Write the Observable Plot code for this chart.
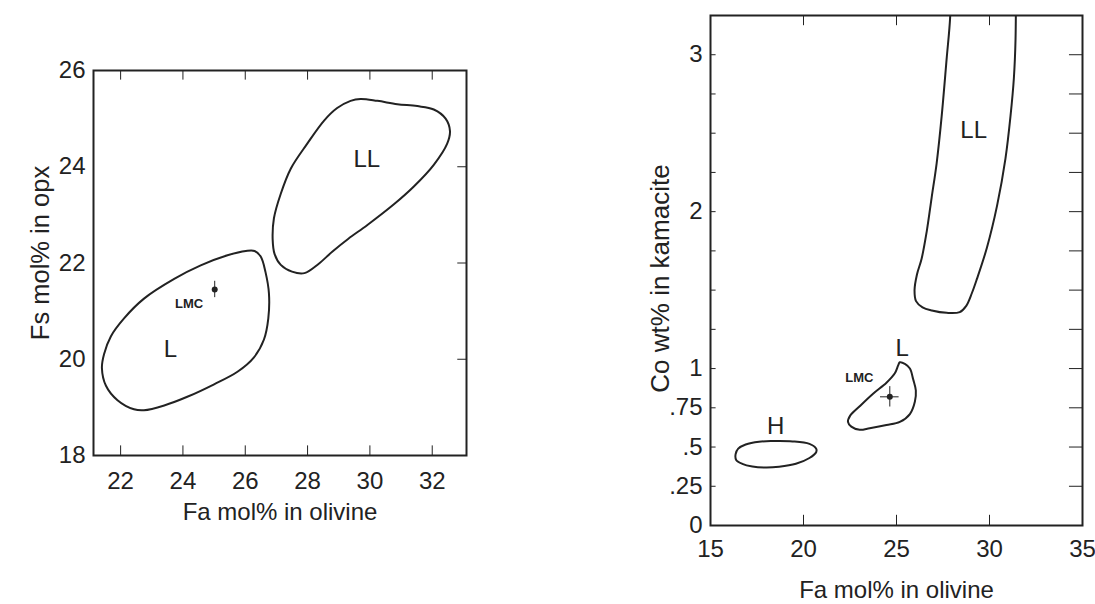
<!DOCTYPE html>
<html><head><meta charset="utf-8">
<script src="https://cdn.jsdelivr.net/npm/d3@7"></script>
<script src="https://cdn.jsdelivr.net/npm/@observablehq/plot@0.6"></script>
<style>
body{margin:0;background:#fff;}
#wrap{position:relative;width:1095px;height:604px;background:#fff;overflow:hidden;}
#left,#right{position:absolute;top:0;}
#left{left:0;} #right{left:545px;}
</style></head><body><div id="wrap"><div id="left"></div><div id="right"></div></div>
<script>
const FONT = '"Liberation Sans Narrow","Arial Narrow","Liberation Sans",Arial,sans-serif';
const INK = "#222";

// ---------- Left panel data ----------
const leftXTitle = "Fa mol% in olivine";
const leftYTitle = "Fs mol% in opx";
const leftXDomain = [21.13, 33.1];
const leftYDomain = [18, 26];
const leftXTicks = [22, 24, 26, 28, 30, 32];
const leftYTicks = [18, 20, 22, 24, 26];
const leftYInnerTicks = [20, 22, 24];
const leftL = [[21.40,19.82],[21.47,20.11],[21.69,20.48],[22.11,20.85],[22.75,21.26],[23.72,21.67],[24.57,21.95],[25.43,22.16],[26.02,22.25],[26.30,22.25],[26.50,22.13],[26.65,21.81],[26.76,21.37],[26.74,20.85],[26.60,20.41],[26.28,20.04],[25.75,19.74],[25.00,19.48],[24.14,19.22],[23.40,19.04],[22.75,18.94],[22.43,18.96],[21.90,19.15],[21.53,19.45]];
const leftLL = [[29.70,25.41],[30.24,25.37],[30.88,25.30],[31.52,25.26],[32.05,25.19],[32.43,25.00],[32.57,24.74],[32.48,24.48],[32.05,24.04],[31.41,23.59],[30.77,23.22],[29.92,22.79],[29.30,22.50],[28.80,22.24],[28.35,21.98],[27.90,21.79],[27.50,21.82],[27.14,21.96],[26.94,22.19],[26.88,22.48],[26.92,22.93],[27.14,23.44],[27.46,23.96],[27.99,24.48],[28.53,24.96],[28.95,25.22],[29.38,25.37]];
const leftLMC = [{x: 25.02, y: 21.45, ex: 0.07, ey: 0.17}];
const leftRegionLabels = [{x: 23.6, y: 20.2, text: "L"}, {x: 29.9, y: 24.15, text: "LL"}];
const leftLMCLabel = [{x: 24.2, y: 21.15, text: "LMC"}];

// ---------- Right panel data ----------
const rightXTitle = "Fa mol% in olivine";
const rightYTitle = "Co wt% in kamacite";
const rightXDomain = [15, 35];
const rightYDomain = [0, 3.25];
const rightXTicks = [15, 20, 25, 30, 35];
const rightXInnerTicks = [20, 25, 30];
const rightYTicks = [0, 0.25, 0.5, 0.75, 1, 2, 3];
const rightYTickLabels = ["0", ".25", ".5", ".75", "1", "2", "3"];
const rightYInnerTicks = [0.25,0.5,0.75,1,1.25,1.5,1.75,2,2.25,2.5,2.75,3];
const rightLL = [[27.92,3.45],[27.88,3.23],[27.70,2.98],[27.43,2.61],[27.16,2.31],[26.89,2.09],[26.62,1.87],[26.35,1.70],[26.10,1.60],[25.97,1.50],[26.05,1.43],[26.40,1.39],[26.90,1.37],[27.70,1.355],[28.40,1.36],[28.75,1.40],[29.05,1.48],[29.32,1.57],[29.86,1.77],[30.41,2.04],[30.86,2.34],[31.13,2.61],[31.31,2.85],[31.40,3.10],[31.42,3.45]];
const rightL = [[25.18,1.04],[25.45,1.03],[25.72,1.00],[25.90,0.93],[26.04,0.86],[25.99,0.79],[25.72,0.71],[25.18,0.66],[24.46,0.64],[23.56,0.62],[23.02,0.61],[22.57,0.63],[22.39,0.66],[22.51,0.70],[23.02,0.76],[23.74,0.84],[24.46,0.91],[24.91,0.97],[25.09,1.02]];
const rightH = [[16.35,0.455],[16.49,0.49],[16.89,0.516],[17.61,0.534],[18.33,0.538],[19.41,0.536],[20.32,0.52],[20.68,0.49],[20.68,0.467],[20.32,0.43],[19.59,0.393],[18.69,0.374],[17.97,0.369],[17.25,0.376],[16.71,0.393],[16.38,0.418]];
const rightLMC = [{x: 24.64, y: 0.82, ex: 0.5, ey: 0.065}];
const rightRegionLabels = [{x: 25.3, y: 1.13, text: "L"}, {x: 29.15, y: 2.52, text: "LL"}, {x: 18.5, y: 0.63, text: "H"}];
const rightLMCLabel = [{x: 23.0, y: 0.94, text: "LMC"}];

const px = d => d[0], py = d => d[1];

function contour(data, closed, extra = {}) {
  return Plot.line(data, {x: px, y: py, curve: closed ? "catmull-rom-closed" : "catmull-rom", stroke: INK, strokeWidth: 2, ...extra});
}

// ---------- Left chart ----------
const left = Plot.plot({
  width: 545, height: 604,
  marginLeft: 93, marginRight: 79, marginTop: 70, marginBottom: 149,
  style: {fontFamily: FONT, color: INK, background: "white"},
  x: {domain: leftXDomain, axis: null},
  y: {domain: leftYDomain, axis: null},
  marks: [
    Plot.axisX(leftXTicks, {anchor: "bottom", tickSize: 0, tickPadding: 16, fontSize: 24, label: null}),
    Plot.axisY(leftYTicks, {anchor: "left", tickSize: 0, tickPadding: 8, fontSize: 24, label: null}),
    Plot.ruleX(leftXTicks, {x: d => d, y1: () => leftYDomain[0], y2: () => leftYDomain[0] + 0.2, stroke: INK, strokeWidth: 1}),
    Plot.ruleX(leftXTicks, {x: d => d, y1: () => leftYDomain[1], y2: () => leftYDomain[1] - 0.2, stroke: INK, strokeWidth: 1}),
    Plot.ruleY(leftYInnerTicks, {y: d => d, x1: () => leftXDomain[1], x2: () => leftXDomain[1] - 0.28, stroke: INK, strokeWidth: 1}),
    Plot.frame({stroke: INK, strokeWidth: 2}),
    contour(leftL, true),
    contour(leftLL, true),
    Plot.ruleX(leftLMC, {x: "x", y1: d => d.y - d.ey, y2: d => d.y + d.ey, stroke: INK, strokeWidth: 1}),
    Plot.ruleY(leftLMC, {y: "y", x1: d => d.x - d.ex, x2: d => d.x + d.ex, stroke: INK, strokeWidth: 1}),
    Plot.dot(leftLMC, {x: "x", y: "y", r: 3, fill: INK}),
    Plot.text(leftRegionLabels, {x: "x", y: "y", text: "text", fontSize: 24, fill: INK}),
    Plot.text(leftLMCLabel, {x: "x", y: "y", text: "text", fontSize: 13, fontWeight: "bold", fontFamily: "Liberation Sans, Arial, sans-serif", fill: INK}),
    Plot.text([leftXTitle], {frameAnchor: "bottom", lineAnchor: "middle", dy: 57, fontSize: 24, fill: INK}),
    Plot.text([leftYTitle], {frameAnchor: "left", textAnchor: "middle", lineAnchor: "middle", rotate: -90, dx: -53, dy: -10, fontSize: 25.5, fill: INK})
  ]
});
document.getElementById("left").appendChild(left);

// ---------- Right chart ----------
const right = Plot.plot({
  width: 550, height: 604,
  marginLeft: 165, marginRight: 13, marginTop: 15, marginBottom: 79,
  style: {fontFamily: FONT, color: INK, background: "white"},
  x: {domain: rightXDomain, axis: null},
  y: {domain: rightYDomain, axis: null},
  marks: [
    Plot.axisX(rightXTicks, {anchor: "bottom", tickSize: 0, tickPadding: 14, fontSize: 24, label: null}),
    Plot.axisY(rightYTicks, {anchor: "left", tickSize: 0, tickPadding: 8, fontSize: 24, label: null, tickFormat: (d, i) => rightYTickLabels[i]}),
    Plot.ruleX(rightXInnerTicks, {x: d => d, y1: () => rightYDomain[0], y2: () => rightYDomain[0] + 0.065, stroke: INK, strokeWidth: 1}),
    Plot.ruleX(rightXInnerTicks, {x: d => d, y1: () => rightYDomain[1], y2: () => rightYDomain[1] - 0.065, stroke: INK, strokeWidth: 1}),
    Plot.ruleY(rightYInnerTicks, {y: d => d, x1: () => rightXDomain[1], x2: () => rightXDomain[1] - 0.7, stroke: INK, strokeWidth: 1}),
    Plot.ruleY(rightYInnerTicks, {y: d => d, x1: () => rightXDomain[0], x2: () => rightXDomain[0] + 0.3, stroke: INK, strokeWidth: 1}),
    Plot.frame({stroke: INK, strokeWidth: 2}),
    contour(rightLL, false, {clip: true}),
    contour(rightL, true),
    contour(rightH, true),
    Plot.ruleX(rightLMC, {x: "x", y1: d => d.y - d.ey, y2: d => d.y + d.ey, stroke: INK, strokeWidth: 1}),
    Plot.ruleY(rightLMC, {y: "y", x1: d => d.x - d.ex, x2: d => d.x + d.ex, stroke: INK, strokeWidth: 1}),
    Plot.dot(rightLMC, {x: "x", y: "y", r: 3, fill: INK}),
    Plot.text(rightRegionLabels, {x: "x", y: "y", text: "text", fontSize: 24, fill: INK}),
    Plot.text(rightLMCLabel, {x: "x", y: "y", text: "text", fontSize: 13, fontWeight: "bold", fontFamily: "Liberation Sans, Arial, sans-serif", fill: INK}),
    Plot.text([rightXTitle], {frameAnchor: "bottom", lineAnchor: "middle", dy: 65, fontSize: 24, fill: INK}),
    Plot.text([rightYTitle], {frameAnchor: "left", textAnchor: "middle", lineAnchor: "middle", rotate: -90, dx: -50, dy: 8, fontSize: 26, fill: INK})
  ]
});
document.getElementById("right").appendChild(right);
</script></body></html>
